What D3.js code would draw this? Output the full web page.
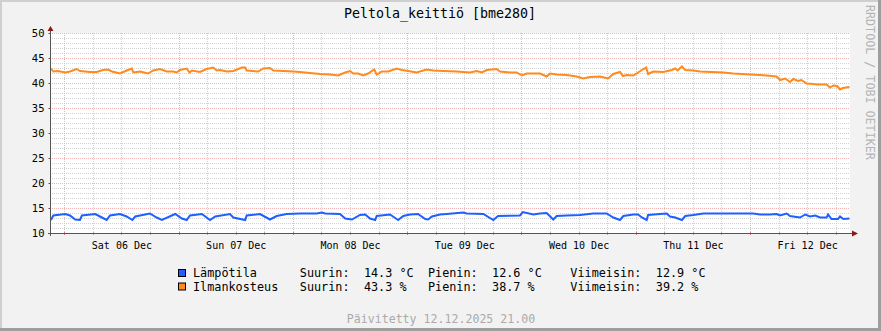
<!DOCTYPE html>
<html>
<head>
<meta charset="utf-8">
<script src="https://cdn.jsdelivr.net/npm/d3@7"></script>
<style>
  html, body { margin: 0; padding: 0; background: #f2f2f2; }
  svg { display: block; }
  text { font-family: "DejaVu Sans Mono", monospace; }
</style>
</head>
<body>
<svg id="chart" width="881" height="331"></svg>
<script>
// ---------------- DATA ----------------
const titleText = "Peltola_keittiö [bme280]";
const startTime = Date.UTC(2025, 11, 5, 21, 0);   // Fri 05 Dec 21:00
const endTime   = Date.UTC(2025, 11, 12, 21, 0);  // Fri 12 Dec 21:00
const yTicks = [10, 15, 20, 25, 30, 35, 40, 45, 50];
const seriesNames = ["Lämpötila", "Ilmankosteus"];
const seriesUnits = ["°C", "%"];
const maxValues = ["14.3", "43.3"];
const minValues = ["12.6", "38.7"];
const lastValues = ["12.9", "39.2"];
const footerText = "Päivitetty 12.12.2025 21.00";
const watermarkText = "RRDTOOL / TOBI OETIKER";

// [hours since start, value]
const temperatureData = [
  [0.2,12.6],[0.7,13.5],[3.2,13.8],[4.2,13.5],[5.3,12.7],[6.3,12.6],[6.7,13.5],[9.5,13.8],
  [10.5,13.3],[11.9,12.6],[12.6,13.5],[14.7,13.8],[16.1,13.3],[17.3,12.6],[17.9,13.3],[21.0,13.9],
  [22.4,13.1],[23.5,12.6],[26.3,13.8],[27.7,12.9],[28.7,12.6],[29.4,13.5],[31.9,13.8],[33.6,12.6],
  [34.7,13.3],[37.8,13.8],[38.5,13.1],[41.0,12.6],[41.3,13.5],[44.1,13.8],[46.2,12.7],[47.6,13.4],
  [49.7,13.8],[52.5,13.9],[56.0,13.9],[57.1,14.1],[57.8,13.9],[60.9,13.8],[62.0,12.9],[63.4,12.7],
  [65.1,13.6],[66.2,13.7],[67.2,12.9],[68.3,12.6],[68.6,13.4],[71.4,13.7],[72.8,12.8],[73.1,12.6],
  [74.2,13.4],[75.6,13.7],[77.3,13.8],[78.8,12.8],[79.4,12.7],[80.2,13.3],[81.9,13.7],[83.3,13.8],
  [86.8,14.1],[87.5,13.9],[91.0,13.8],[93.1,12.6],[94.1,13.4],[98.7,13.5],[99.3,14.2],[101.5,13.7],
  [102.9,13.9],[104.3,14.0],[105.7,12.7],[106.4,13.4],[108.5,13.5],[111.3,13.6],[114.1,13.9],[116.9,13.9],
  [118.3,13.1],[119.7,12.6],[120.4,13.4],[122.5,13.7],[123.5,13.7],[124.3,13.1],[125.3,12.6],[125.6,13.6],
  [128.1,13.8],[129.5,13.9],[130.2,13.3],[131.3,13.1],[132.7,12.6],[133.4,13.4],[135.1,13.6],[137.2,13.9],
  [147.7,13.9],[149.1,13.7],[151.2,13.7],[152.6,13.8],[153.3,13.5],[154.7,13.9],[155.4,13.4],[156.1,13.3],
  [157.5,13.1],[158.6,13.7],[159.6,13.3],[160.7,13.5],[161.7,13.1],[163.1,13.1],[163.4,13.7],[164.1,12.8],
  [165.5,12.8],[165.9,13.3],[166.6,12.8],[167.9,12.9]
];

const humidityData = [
  [0.2,42.9],[0.7,42.3],[1.7,42.4],[3.2,42.1],[4.2,42.3],[5.6,42.8],[6.3,42.4],[8.4,42.2],
  [9.8,42.2],[11.1,42.6],[12.2,42.7],[13.0,42.3],[14.7,41.9],[16.1,42.5],[17.2,42.9],[17.5,42.1],
  [18.9,42.3],[20.6,41.9],[21.7,42.5],[23.1,42.8],[24.5,42.3],[25.9,42.3],[26.6,42.1],[27.3,42.6],
  [28.7,42.9],[29.3,42.1],[29.8,42.5],[31.5,42.2],[32.9,42.8],[34.3,43.1],[35.0,42.5],[35.7,42.6],
  [37.1,42.3],[38.5,42.4],[40.3,43.1],[41.0,43.1],[41.3,42.5],[43.7,42.3],[44.8,42.9],[46.2,43.0],
  [46.9,42.5],[49.0,42.4],[51.1,42.3],[52.5,42.2],[54.6,42.0],[56.7,41.8],[58.8,41.7],[60.5,41.5],
  [62.0,42.1],[63.0,42.4],[63.7,41.9],[64.7,41.9],[65.8,41.5],[66.8,41.9],[68.1,42.7],[68.6,41.7],
  [69.7,42.3],[71.0,42.3],[72.8,42.9],[73.9,42.6],[75.2,42.4],[77.0,42.1],[79.1,42.7],[80.5,42.5],
  [82.6,42.4],[85.4,42.3],[88.2,42.1],[89.6,42.4],[90.7,42.1],[91.7,42.6],[93.8,42.8],[94.5,42.3],
  [96.6,42.1],[98.0,42.1],[99.1,41.5],[100.1,41.9],[102.9,41.9],[104.3,41.3],[105.0,41.9],[106.4,41.7],
  [108.5,41.6],[110.6,41.3],[112.0,40.9],[113.4,41.2],[115.5,41.3],[117.2,40.9],[118.3,41.8],[119.7,42.2],
  [120.3,41.4],[121.1,41.6],[122.5,41.5],[123.5,42.1],[124.6,42.8],[125.2,43.1],[125.6,41.8],[126.7,42.3],
  [128.8,42.2],[130.6,42.6],[131.3,42.9],[131.8,42.5],[132.7,43.3],[133.4,42.6],[135.1,42.5],[136.5,42.3],
  [141.4,42.1],[143.5,41.9],[147.0,41.7],[150.5,41.5],[152.6,41.3],[153.3,40.6],[154.4,40.9],[155.4,40.2],
  [156.1,40.8],[157.1,40.4],[157.8,40.6],[158.9,39.9],[160.3,39.8],[161.0,39.7],[163.1,39.7],[163.8,39.1],
  [164.5,39.5],[165.3,39.4],[165.9,38.7],[166.5,39.0],[167.9,39.2]
];

const seriesColors = ["#1f5fff", "#ff8a1f"];

// ---------------- LAYOUT ----------------
const W = 881, H = 331;
const plot = { left: 50, right: 850, top: 33, bottom: 233 };
const HOUR = 3600 * 1000;

const svg = d3.select("#chart");

// background & 3D frame
svg.append("rect").attr("x", 0).attr("y", 0).attr("width", W).attr("height", H).attr("fill", "#f2f2f2");
svg.append("rect").attr("x", 0).attr("y", 0).attr("width", W).attr("height", 2).attr("fill", "#cfcfcf");
svg.append("rect").attr("x", 0).attr("y", 0).attr("width", 2).attr("height", H).attr("fill", "#cfcfcf");
svg.append("rect").attr("x", 0).attr("y", H - 3).attr("width", W).attr("height", 3).attr("fill", "#9e9e9e");
svg.append("rect").attr("x", W - 3).attr("y", 0).attr("width", 3).attr("height", H).attr("fill", "#9e9e9e");

const x = d3.scaleUtc().domain([new Date(startTime), new Date(endTime)]).range([plot.left, plot.right]);
const y = d3.scaleLinear().domain([10, 50]).range([plot.bottom, plot.top]);

// canvas
svg.append("rect").attr("x", plot.left).attr("y", plot.top)
  .attr("width", plot.right - plot.left).attr("height", plot.bottom - plot.top).attr("fill", "#ffffff");

// grid
const grid = svg.append("g");
const minorY = d3.range(10, 51, 1).filter(v => v % 5 !== 0);
grid.selectAll(".hminor").data(minorY).join("line")
  .attr("x1", plot.left).attr("x2", plot.right)
  .attr("y1", d => Math.round(y(d)) + 0.5).attr("y2", d => Math.round(y(d)) + 0.5)
  .attr("stroke", "#d2d2d2").attr("stroke-dasharray", "1,1");
const sixHours = d3.utcHour.every(6).range(new Date(startTime), new Date(endTime + 1));
const minorX = sixHours.filter(d => d.getUTCHours() !== 0);
const majorX = sixHours.filter(d => d.getUTCHours() === 0);
grid.selectAll(".vminor").data(minorX).join("line")
  .attr("x1", d => Math.round(x(d)) + 0.5).attr("x2", d => Math.round(x(d)) + 0.5)
  .attr("y1", plot.top).attr("y2", plot.bottom)
  .attr("stroke", "#d2d2d2").attr("stroke-dasharray", "1,1");
grid.selectAll(".hmajor").data(yTicks).join("line")
  .attr("x1", plot.left).attr("x2", plot.right)
  .attr("y1", d => Math.round(y(d)) + 0.5).attr("y2", d => Math.round(y(d)) + 0.5)
  .attr("stroke", "#efb4b4").attr("stroke-dasharray", "1,1");
grid.selectAll(".vmajor").data(majorX).join("line")
  .attr("x1", d => Math.round(x(d)) + 0.5).attr("x2", d => Math.round(x(d)) + 0.5)
  .attr("y1", plot.top).attr("y2", plot.bottom)
  .attr("stroke", "#efb4b4").attr("stroke-dasharray", "1,1");

// y axis labels via d3.axisLeft
const yAxis = svg.append("g").attr("transform", `translate(${plot.left + 0.5},0)`)
  .call(d3.axisLeft(y).tickValues(yTicks).tickSize(2).tickPadding(4).tickFormat(d3.format("d")));
yAxis.select(".domain").remove();
yAxis.selectAll("line").attr("stroke", "#555");
yAxis.selectAll("text").attr("font-family", "DejaVu Sans Mono").attr("font-size", 10.5).attr("fill", "#000");

// x axis labels (noon of each day)
const noonTicks = d3.utcDay.range(new Date(startTime), new Date(endTime)).map(d => new Date(+d + 12 * HOUR))
  .filter(d => +d < endTime);
const xAxis = svg.append("g").attr("transform", `translate(0,${plot.bottom + 0.5})`)
  .call(d3.axisBottom(x).tickValues(noonTicks).tickSize(0).tickPadding(8).tickFormat(d3.utcFormat("%a %d %b")));
xAxis.select(".domain").remove();
xAxis.selectAll("text").attr("font-family", "DejaVu Sans Mono").attr("font-size", 10).attr("fill", "#000");

// x ticks at six-hour positions
svg.append("g").selectAll("line").data(sixHours).join("line")
  .attr("x1", d => Math.round(x(d)) + 0.5).attr("x2", d => Math.round(x(d)) + 0.5)
  .attr("y1", plot.bottom - 1).attr("y2", plot.bottom + 2)
  .attr("stroke", d => d.getUTCHours() === 0 ? "#d08080" : "#aaaaaa");

// series lines
const line = d3.line()
  .x(d => x(new Date(startTime + d[0] * HOUR)))
  .y(d => y(d[1]));
[temperatureData, humidityData].forEach((data, i) => {
  svg.append("path").datum(data)
    .attr("d", line).attr("fill", "none")
    .attr("stroke", seriesColors[i]).attr("stroke-width", 2)
    .attr("stroke-linejoin", "miter").attr("stroke-linecap", "butt");
});

// axis lines and arrows
svg.append("line").attr("x1", plot.left + 0.5).attr("x2", plot.left + 0.5)
  .attr("y1", plot.bottom + 3).attr("y2", plot.top - 4).attr("stroke", "#555");
svg.append("line").attr("x1", plot.left - 2).attr("x2", plot.right + 4)
  .attr("y1", plot.bottom + 0.5).attr("y2", plot.bottom + 0.5).attr("stroke", "#555");
svg.append("path")
  .attr("d", `M${plot.left - 2.5},${plot.top - 2} L${plot.left + 3.5},${plot.top - 2} L${plot.left + 0.5},${plot.top - 7} Z`)
  .attr("fill", "#8a1a1a");
svg.append("path")
  .attr("d", `M${plot.right + 2},${plot.bottom - 2.5} L${plot.right + 2},${plot.bottom + 3.5} L${plot.right + 8},${plot.bottom + 0.5} Z`)
  .attr("fill", "#8a1a1a");

// title
svg.append("text").attr("x", 440).attr("y", 18).attr("text-anchor", "middle")
  .attr("font-size", 13.3).attr("fill", "#000").text(titleText);

// watermark (rotated)
svg.append("text").attr("transform", "translate(866,5) rotate(90)")
  .attr("font-size", 11.7).attr("fill", "#b4b4b4").text(watermarkText);

// legend
const colW = 7.12, legX = 193;
const legRows = [277, 290.5];
seriesNames.forEach((name, i) => {
  const by = legRows[i];
  svg.append("rect").attr("x", 178.5).attr("y", by - 7.5).attr("width", 7).attr("height", 7)
    .attr("fill", seriesColors[i]).attr("stroke", "#000").attr("stroke-width", 1);
  const parts = [
    [0, name],
    [15, "Suurin:"],
    [24, maxValues[i] + " " + seriesUnits[i]],
    [33, "Pienin:"],
    [42, minValues[i] + " " + seriesUnits[i]],
    [53, "Viimeisin:"],
    [65, lastValues[i] + " " + seriesUnits[i]]
  ];
  parts.forEach(p => {
    svg.append("text").attr("x", legX + p[0] * colW).attr("y", by)
      .attr("font-size", 11.8).attr("fill", "#000")
      .style("white-space", "pre").text(p[1]);
  });
});

// footer
svg.append("text").attr("x", 441).attr("y", 323).attr("text-anchor", "middle")
  .attr("font-size", 11.6).attr("fill", "#aaaaaa").text(footerText);
</script>
</body>
</html>
